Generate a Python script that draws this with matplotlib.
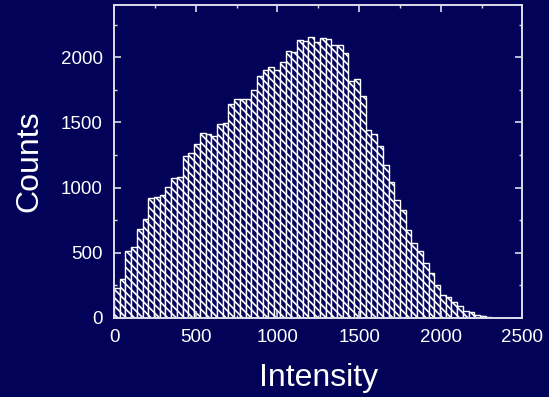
import numpy as np
import matplotlib
matplotlib.use("Agg")
import matplotlib.pyplot as plt
from matplotlib.ticker import MultipleLocator

# histogram counts per bin (bin width 35)
bin_width = 35
counts = [
    227, 296, 515, 541, 679, 763, 921, 929, 942, 1005,
    1074, 1082, 1240, 1266, 1337, 1422, 1409, 1399, 1490, 1498,
    1644, 1679, 1679, 1679, 1751, 1855, 1899, 1924, 1899, 1965,
    2047, 2037, 2136, 2123, 2154, 2116, 2151, 2144, 2095, 2095,
    2034, 1822, 1830, 1702, 1445, 1414, 1319, 1177, 1044, 909,
    827, 674, 577, 515, 424, 347, 255, 179, 158, 120,
    92, 56, 48, 20, 15, 10, 3, 2, 1, 1, 1,
]
x_ticks = [0, 500, 1000, 1500, 2000, 2500]
y_ticks = [0, 500, 1000, 1500, 2000]

BG = "#020259"
FG = "#dcdcec"

plt.rcParams["font.family"] = ["Liberation Sans", "DejaVu Sans"]
plt.rcParams["hatch.linewidth"] = 1.2

fig = plt.figure(figsize=(5.49, 3.97), dpi=100, facecolor=BG)
ax = fig.add_axes([0.2077, 0.199, 0.7440, 0.788], facecolor=BG)

left_edges = np.arange(len(counts)) * bin_width
ax.bar(left_edges, counts, width=bin_width, align="edge",
       color=BG, edgecolor="white", linewidth=1.0, hatch="\\\\\\\\")

ax.set_xlim(0, 2500)
ax.set_ylim(0, 2400)
ax.set_xticks(x_ticks)
ax.set_yticks(y_ticks)
ax.xaxis.set_minor_locator(MultipleLocator(250))
ax.yaxis.set_minor_locator(MultipleLocator(250))

for side in ax.spines.values():
    side.set_color(FG)
    side.set_linewidth(1.4)

ax.tick_params(which="both", direction="in", top=True, right=True, colors=FG,
               labelcolor="white", labelsize=13.5)
ax.tick_params(which="major", length=5, width=1.2, pad=8)
ax.tick_params(which="minor", length=2.5, width=1.0)

ax.set_xlabel("Intensity", color="white", fontsize=23, labelpad=12)
ax.set_ylabel("Counts", color="white", fontsize=23, labelpad=12)

fig.savefig("out.png", dpi=100, facecolor=BG)
